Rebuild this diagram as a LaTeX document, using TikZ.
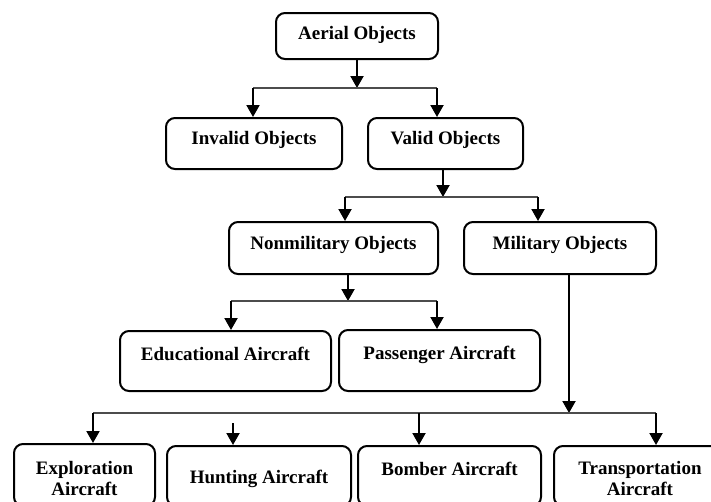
\documentclass[tikz,border=0pt]{standalone}
\usepackage{fontspec}
\setmainfont{Liberation Serif}
\usetikzlibrary{arrows.meta}
\begin{document}
\begin{tikzpicture}[x=1pt,y=-1pt,
  box/.style={draw, rounded corners=9pt, line width=2pt, inner sep=0pt,
    anchor=north west, font=\bfseries\fontsize{19}{21}\selectfont},
  arr/.style={line width=2pt, -{Triangle[length=12pt,width=13pt]}},
  hline/.style={line width=1.5pt, black!70}]
\useasboundingbox (0,0) rectangle (711,501);
\clip (0,0) rectangle (711,501);
% boxes
\node[box, minimum width=162pt, text height=26pt, text depth=20pt] (aerial) at (275,12) {Aerial Objects};
\node[box, minimum width=176pt, text height=26pt, text depth=25pt] (invalid) at (165,117) {Invalid Objects};
\node[box, minimum width=155pt, text height=26pt, text depth=25pt] (valid) at (367,117) {Valid Objects};
\node[box, minimum width=209pt, text height=27pt, text depth=25pt] (nonmil) at (228,221) {Nonmilitary Objects};
\node[box, minimum width=192pt, text height=27pt, text depth=25pt] (mil) at (463,221) {Military Objects};
\node[box, minimum width=211pt, text height=29pt, text depth=31pt] (edu) at (119,330) {Educational Aircraft};
\node[box, minimum width=201pt, text height=29pt, text depth=32pt] (pass) at (338,329) {Passenger Aircraft};
\node[box, minimum width=141pt, text height=30pt, text depth=32pt] (expl) at (13,443) {\begin{tabular}[t]{@{}c@{}}Exploration\\Aircraft\end{tabular}};
\node[box, minimum width=184pt, text height=37pt, text depth=23pt] (hunt) at (166,445) {Hunting Aircraft};
\node[box, minimum width=183pt, text height=29pt, text depth=31pt] (bomb) at (357,445) {Bomber Aircraft};
\node[box, minimum width=172pt, text height=28pt, text depth=32pt] (trans) at (553,445) {\begin{tabular}[t]{@{}c@{}}Transportation\\Aircraft\end{tabular}};
% junction coordinates
\coordinate (j1) at (357,88);
\coordinate (j1l) at (253,88);
\coordinate (j1r) at (437,88);
\coordinate (j2) at (443,197);
\coordinate (j2l) at (345,197);
\coordinate (j2r) at (538,197);
\coordinate (n3) at (348,273);
\coordinate (j3) at (348,301);
\coordinate (j3l) at (231,301);
\coordinate (j3r) at (437,301);
\coordinate (m4) at (569,273);
\coordinate (j4) at (569,413);
\coordinate (j4l) at (93,413);
\coordinate (j4r) at (656,413);
\coordinate (h4) at (233,423);
\coordinate (b4) at (419,413);
% level 1
\draw[arr] (j1 |- aerial.south) -- (j1);
\draw[hline] (j1l) -- (j1r);
\draw[arr] (j1l) -- (j1l |- invalid.north);
\draw[arr] (j1r) -- (j1r |- valid.north);
% level 2
\draw[arr] (j2 |- valid.south) -- (j2);
\draw[hline] (j2l) -- (j2r);
\draw[arr] (j2l) -- (j2l |- nonmil.north);
\draw[arr] (j2r) -- (j2r |- mil.north);
% level 3
\draw[arr] (n3 |- nonmil.south) -- (j3);
\draw[hline] (j3l) -- (j3r);
\draw[arr] (j3l) -- (j3l |- edu.north);
\draw[arr] (j3r) -- (j3r |- pass.north);
% level 4
\draw[arr] (m4 |- mil.south) -- (j4);
\draw[hline] (j4l) -- (j4r);
\draw[arr] (j4l) -- (j4l |- expl.north);
\draw[arr] (h4) -- (h4 |- hunt.north);
\draw[arr] (b4) -- (b4 |- bomb.north);
\draw[arr] (j4r) -- (j4r |- trans.north);
\end{tikzpicture}
\end{document}
